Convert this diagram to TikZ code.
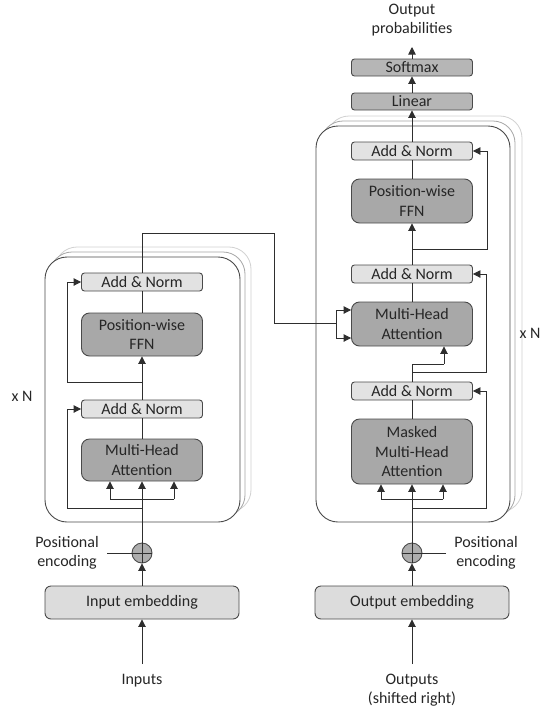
\documentclass[tikz,border=0pt]{standalone}
\usepackage{fontspec}
\setmainfont{Carlito}
\usetikzlibrary{arrows.meta}
\definecolor{ln}{HTML}{2E2E2E}
\definecolor{tx}{HTML}{262626}
\definecolor{bd}{HTML}{4A4A4A}
\definecolor{lightbox}{HTML}{E2E2E2}
\definecolor{darkbox}{HTML}{A8A8A8}
\definecolor{embbox}{HTML}{DCDCDC}
\definecolor{linbox}{HTML}{B6B6B6}
\definecolor{pebox}{HTML}{ADADAD}
\tikzset{
  txt/.style={font=\fontsize{16}{19.5}\selectfont, text=tx, align=center, inner sep=0pt},
  blk/.style={txt, draw=bd, line width=0.9pt, minimum width=121pt},
  addnorm/.style={blk, fill=lightbox, minimum height=18pt, rounded corners=3pt},
  heavy/.style={blk, fill=darkbox, rounded corners=8pt},
  embed/.style={blk, fill=embbox, minimum width=194pt, minimum height=33pt, rounded corners=6pt},
  outlayer/.style={blk, fill=linbox, minimum height=17pt, rounded corners=3pt},
  stack/.style={draw=bd, line width=0.9pt, fill=white, rounded corners=22pt},
  shadowA/.style={draw=black!35, line width=0.8pt, fill=white, rounded corners=22pt},
  shadowB/.style={draw=black!18, line width=0.8pt, fill=white, rounded corners=22pt},
  wire/.style={draw=ln, line width=0.9pt},
  arr/.style={wire, -{Triangle[length=7.5pt,width=7.5pt]}},
  pe/.style={circle, draw=bd, line width=0.9pt, fill=pebox, minimum size=20pt, inner sep=0pt}
}
\begin{document}
\begin{tikzpicture}[x=1pt,y=-1pt]
\useasboundingbox (0,0) rectangle (543,713);

% ---------- stacks ----------
\draw[shadowB] (55,247) rectangle (251,512);
\draw[shadowA] (50,252) rectangle (245,517);
\draw[stack] (45,257) rectangle (240,522);

\draw[shadowB] (327,116) rectangle (522,512);
\draw[shadowA] (321,121) rectangle (515,517);
\draw[stack] (316,126) rectangle (510,522);

% ---------- encoder nodes ----------
\node[addnorm] (eAN2) at (142,282) {Add \& Norm};
\node[heavy, minimum height=43pt] (eFFN) at (142,334.5) {Position-wise\\FFN};
\node[addnorm] (eAN1) at (142,409) {Add \& Norm};
\node[heavy, minimum height=42pt] (eMHA) at (142,460) {Multi-Head\\Attention};
\node[pe] (ePE) at (142,553) {};
\node[embed] (eEmb) at (142,602.5) {Input embedding};
\node[txt] (eIn) at (142,681) {Inputs};
\node[txt] (ePEt) at (67,553) {Positional\\encoding};
\node[txt] (eN) at (22,396) {x N};

% ---------- decoder nodes ----------
\node[outlayer] (soft) at (412,67.5) {Softmax};
\node[outlayer] (lin) at (412,101.5) {Linear};
\node[txt] (prob) at (412,20) {Output\\probabilities};
\node[addnorm] (dAN3) at (412,151) {Add \& Norm};
\node[heavy, minimum height=44pt] (dFFN) at (412,201) {Position-wise\\FFN};
\node[addnorm] (dAN2) at (412,274) {Add \& Norm};
\node[heavy, minimum height=44pt] (dMHA) at (412,324) {Multi-Head\\Attention};
\node[addnorm] (dAN1) at (412,391) {Add \& Norm};
\node[heavy, minimum height=65pt] (dMMHA) at (412,451.5) {Masked\\Multi-Head\\Attention};
\node[pe] (dPE) at (412,553) {};
\node[embed] (dEmb) at (412,602.5) {Output embedding};
\node[txt] (dOut) at (412,690) {Outputs\\(shifted right)};
\node[txt] (dPEt) at (486,553) {Positional\\encoding};
\node[txt] (dN) at (530,333) {x N};

% plus signs in PE circles
\draw[wire] (ePE.north) -- (ePE.south) (ePE.west) -- (ePE.east);
\draw[wire] (dPE.north) -- (dPE.south) (dPE.west) -- (dPE.east);

% ---------- encoder wiring ----------
\coordinate (inS) at (142,664);
\coordinate (ePEl) at (107,553);
\draw[arr] (inS) -- (eEmb.south);
\draw[arr] (eEmb.north) -- (ePE.south);
\draw[wire] (ePEl) -- (ePE.west);
\draw[arr] (ePE.north) -- (eMHA.south);
\coordinate (eqL) at (110,499);
\coordinate (eqR) at (174,499);
\draw[wire] (eqL) -- (eqR);
\draw[arr] (eqL) -- (eqL |- eMHA.south);
\draw[arr] (eqR) -- (eqR |- eMHA.south);
\coordinate (er1) at (142,508);
\coordinate (er1c) at (67,508);
\draw[wire] (er1) -- (er1c) -- (er1c |- eAN1.west);
\draw[arr] (er1c |- eAN1.west) -- (eAN1.west);
\draw[wire] (eMHA.north) -- (eAN1.south);
\draw[arr] (eAN1.north) -- (eFFN.south);
\coordinate (er2) at (142,382);
\coordinate (er2c) at (67,382);
\draw[wire] (er2) -- (er2c) -- (er2c |- eAN2.west);
\draw[arr] (er2c |- eAN2.west) -- (eAN2.west);
\draw[wire] (eFFN.north) -- (eAN2.south);

% encoder -> decoder cross attention
\coordinate (c1) at (142,233);
\coordinate (c2) at (274,233);
\coordinate (c3) at (274,323);
\coordinate (c4) at (336,323);
\coordinate (bTop) at (336,310);
\coordinate (bBot) at (336,338);
\draw[wire] (eAN2.north) -- (c1) -- (c2) -- (c3) -- (c4);
\draw[wire] (bTop) -- (bBot);
\draw[arr] (bTop) -- (bTop -| dMHA.west);
\draw[arr] (bBot) -- (bBot -| dMHA.west);

% ---------- decoder wiring ----------
\coordinate (outS) at (412,664);
\coordinate (dPEr) at (446,553);
\draw[arr] (outS) -- (dEmb.south);
\draw[arr] (dEmb.north) -- (dPE.south);
\draw[wire] (dPEr) -- (dPE.east);
\draw[arr] (dPE.north) -- (dMMHA.south);
\coordinate (dqL) at (381,499);
\coordinate (dqR) at (443,499);
\draw[wire] (dqL) -- (dqR);
\draw[arr] (dqL) -- (dqL |- dMMHA.south);
\draw[arr] (dqR) -- (dqR |- dMMHA.south);
\coordinate (dr1) at (412,508);
\coordinate (dr1c) at (486,508);
\draw[wire] (dr1) -- (dr1c) -- (dr1c |- dAN1.east);
\draw[arr] (dr1c |- dAN1.east) -- (dAN1.east);
\draw[wire] (dMMHA.north) -- (dAN1.south);
\coordinate (dq1) at (412,364);
\coordinate (dq2) at (444,364);
\draw[wire] (dAN1.north) -- (dq1) -- (dq2);
\draw[arr] (dq2) -- (dq2 |- dMHA.south);
\coordinate (dr2) at (412,372);
\coordinate (dr2c) at (486,372);
\draw[wire] (dr2) -- (dr2c) -- (dr2c |- dAN2.east);
\draw[arr] (dr2c |- dAN2.east) -- (dAN2.east);
\draw[wire] (dMHA.north) -- (dAN2.south);
\draw[arr] (dAN2.north) -- (dFFN.south);
\coordinate (dr3) at (412,249);
\coordinate (dr3c) at (487,249);
\draw[wire] (dr3) -- (dr3c) -- (dr3c |- dAN3.east);
\draw[arr] (dr3c |- dAN3.east) -- (dAN3.east);
\draw[wire] (dFFN.north) -- (dAN3.south);
\draw[arr] (dAN3.north) -- (lin.south);
\draw[arr] (lin.north) -- (soft.south);
\coordinate (probS) at (412,47);
\draw[arr] (soft.north) -- (probS);
\end{tikzpicture}
\end{document}
